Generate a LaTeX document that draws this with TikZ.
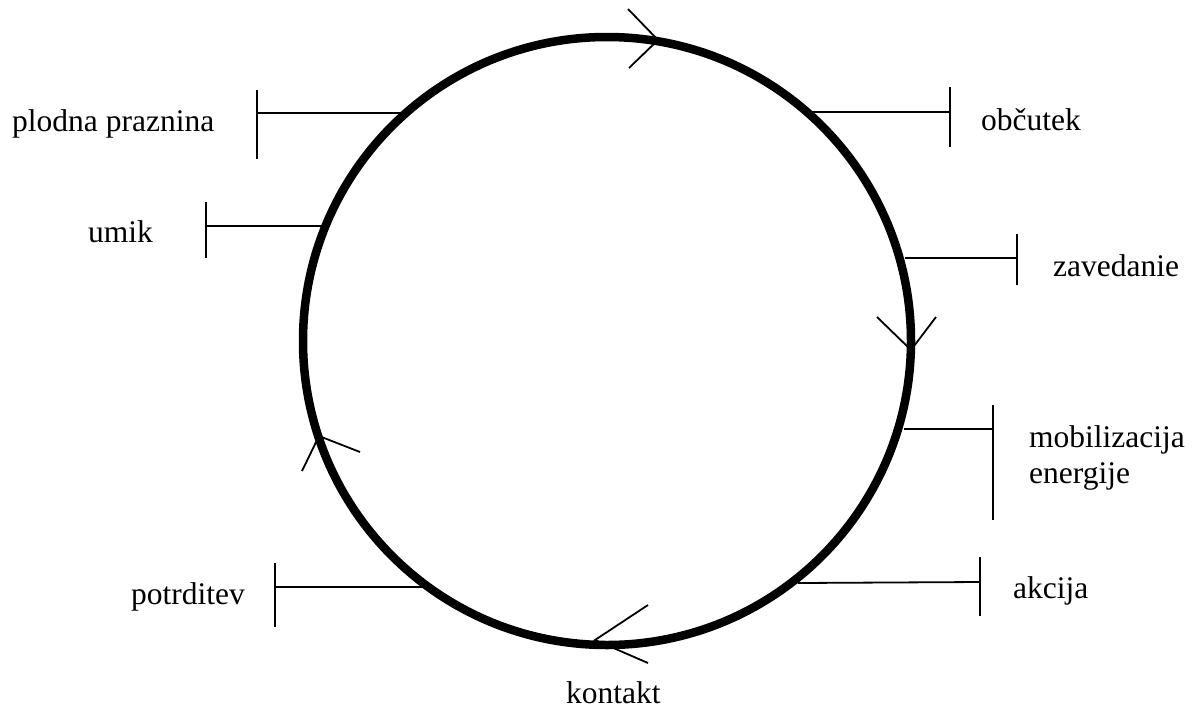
\documentclass[tikz,border=0pt]{standalone}
\usepackage{fontspec}
\setmainfont{Liberation Serif}
\begin{document}
\begin{tikzpicture}[x=1pt,y=-1pt,
  ring/.style={line width=8.5pt},
  tick/.style={line width=1.8pt},
  lbl/.style={anchor=base west,inner sep=0pt,font=\fontsize{31.5}{35}\selectfont}]
\useasboundingbox (0,0) rectangle (1195,713);
% circle
\node[circle,draw,ring,minimum size=608pt,inner sep=0pt] (c) at (607,341) {};
% labels
\node[lbl] (plodna) at (12,131) {plodna praznina};
\node[lbl] (umik) at (88,242) {umik};
\node[lbl] (potrditev) at (131,604) {potrditev};
\node[lbl] (obcutek) at (981,130) {občutek};
\node[lbl] (zavedanie) at (1053,276) {zavedanie};
\node[lbl] (mobil) at (1029,447) {mobilizacija};
\node[lbl] (energ) at (1029,483) {energije};
\node[lbl] (akcija) at (1013,598) {akcija};
\node[lbl] (kontakt) at (566,703) {kontakt};
% tick coordinates
\coordinate (pA) at (405,113); \coordinate (pB) at (257,113);
\coordinate (pT) at (257,90);  \coordinate (pU) at (257,159);
\coordinate (uA) at (325,226); \coordinate (uB) at (206,226);
\coordinate (uT) at (206,202); \coordinate (uU) at (206,258);
\coordinate (tA) at (425,587); \coordinate (tB) at (275,587);
\coordinate (tT) at (275,563); \coordinate (tU) at (275,627);
\coordinate (oA) at (812,112); \coordinate (oB) at (950,112);
\coordinate (oT) at (950,87);  \coordinate (oU) at (950,147);
\coordinate (zA) at (905,258); \coordinate (zB) at (1017,258);
\coordinate (zT) at (1017,234); \coordinate (zU) at (1017,285);
\coordinate (mA) at (904,429); \coordinate (mB) at (993,429);
\coordinate (mT) at (993,405); \coordinate (mU) at (993,520);
\coordinate (aA) at (798,583); \coordinate (aB) at (980,582);
\coordinate (aT) at (980,557); \coordinate (aU) at (980,616);
\foreach \k in {p,u,t,o,z,m,a}{
  \draw[tick] (\k A) -- (\k B);
  \draw[tick] (\k T) -- (\k U);
}
% arrowheads on the ring
\coordinate (topV) at (658,40);
\coordinate (topL) at (628,9); \coordinate (topR) at (629,68);
\coordinate (rgtV) at (911,350);
\coordinate (rgtL) at (877,317); \coordinate (rgtR) at (936,317);
\coordinate (lftV) at (319,436);
\coordinate (lftL) at (302,471); \coordinate (lftR) at (360,452);
\coordinate (botV) at (595,640);
\coordinate (botL) at (648,605); \coordinate (botR) at (648,663);
\foreach \k in {top,rgt,lft,bot}{
  \draw[tick] (\k L) -- (\k V) -- (\k R);
}
\end{tikzpicture}
\end{document}
